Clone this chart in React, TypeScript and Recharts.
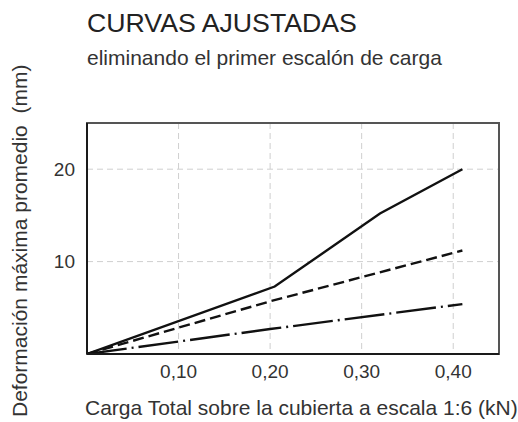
import React from "react";
import { LineChart, Line, XAxis, YAxis, CartesianGrid, ReferenceArea } from "recharts";

const xTicks = [0.1, 0.2, 0.3, 0.4];
const yTicks = [10, 20];

const solidSeries = [
  { x: 0, y: 0 },
  { x: 0.205, y: 7.3 },
  { x: 0.32, y: 15.2 },
  { x: 0.41, y: 20 },
];
const dashedSeries = [
  { x: 0, y: 0 },
  { x: 0.2, y: 5.7 },
  { x: 0.41, y: 11.2 },
];
const dashDotSeries = [
  { x: 0, y: 0 },
  { x: 0.2, y: 2.7 },
  { x: 0.41, y: 5.4 },
];

const title = "CURVAS AJUSTADAS";
const subtitle = "eliminando el primer escalón de carga";
const xLabel = "Carga Total sobre la cubierta a escala 1:6 (kN)";
const yLabel = "Deformación máxima promedio\u00a0 (mm)";

const FONT = "'Liberation Sans', Arial, sans-serif";
const W = 518;
const H = 422;

export default function App() {
  return (
    <div style={{ position: "absolute", left: 0, top: 0, width: W, height: H, background: "#fff" }}>
      <LineChart
        width={W}
        height={H}
        margin={{ top: 123, right: 19, bottom: 0, left: 47 }}
        style={{ fontFamily: FONT }}
      >
        <CartesianGrid
          stroke="#cfcfcf"
          strokeDasharray="6 4"
          strokeWidth={1}
          horizontalValues={yTicks}
          verticalValues={xTicks}
        />
        <ReferenceArea
          x1={0}
          x2={0.45}
          y1={0}
          y2={25}
          fill="none"
          fillOpacity={0}
          stroke="#555"
          strokeWidth={2}
          ifOverflow="visible"
        />
        <XAxis
          dataKey="x"
          type="number"
          domain={[0, 0.45]}
          ticks={xTicks}
          allowDataOverflow
          tickFormatter={(v: number) => v.toFixed(2).replace(".", ",")}
          tickLine={false}
          axisLine={{ stroke: "#1a1a1a", strokeWidth: 2 }}
          tick={{ fill: "#333", fontSize: 19, fontFamily: FONT }}
          tickMargin={5}
          height={68}
        />
        <YAxis
          type="number"
          domain={[0, 25]}
          ticks={yTicks}
          allowDataOverflow
          tickLine={false}
          axisLine={{ stroke: "#1a1a1a", strokeWidth: 2 }}
          tick={{ fill: "#333", fontSize: 19, fontFamily: FONT }}
          tickMargin={6}
          width={40}
        />
        <Line
          data={solidSeries}
          dataKey="y"
          type="linear"
          stroke="#111"
          strokeWidth={2.4}
          dot={false}
          isAnimationActive={false}
        />
        <Line
          data={dashedSeries}
          dataKey="y"
          type="linear"
          stroke="#111"
          strokeWidth={2.4}
          strokeDasharray="11 5"
          dot={false}
          isAnimationActive={false}
        />
        <Line
          data={dashDotSeries}
          dataKey="y"
          type="linear"
          stroke="#111"
          strokeWidth={2.4}
          strokeDasharray="40 5 2 5"
          dot={false}
          isAnimationActive={false}
        />
      </LineChart>
      <svg
        width={W}
        height={H}
        style={{ position: "absolute", left: 0, top: 0, pointerEvents: "none" }}
      >
        <text x={87} y={32} fontFamily={FONT} fontSize={26.7} fill="#222">
          {title}
        </text>
        <text x={87} y={65} fontFamily={FONT} fontSize={21} fill="#333">
          {subtitle}
        </text>
        <text x={85} y={415} fontFamily={FONT} fontSize={21} fill="#333">
          {xLabel}
        </text>
        <text
          x={0}
          y={0}
          fontFamily={FONT}
          fontSize={21}
          fill="#333"
          transform="translate(27,417) rotate(-90)"
        >
          {yLabel}
        </text>
      </svg>
    </div>
  );
}
